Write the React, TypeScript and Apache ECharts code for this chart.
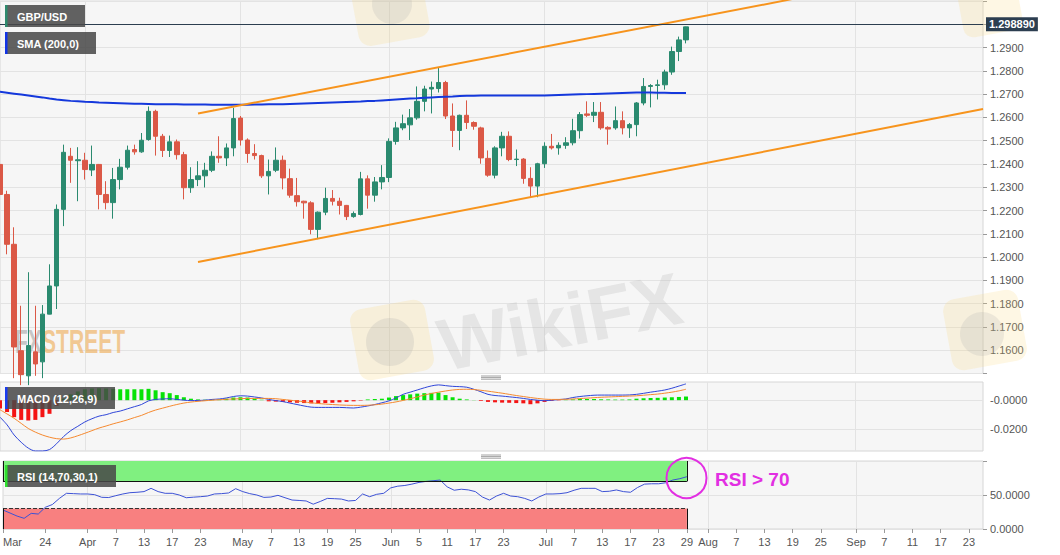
import React, { useEffect, useRef } from 'react';
import * as echarts from 'echarts';

// ---------- axis / calendar ----------
const firstDate = '2020-03-16';
const lastDate = '2020-09-25';

function weekdays(from: string, to: string): string[] {
  const out: string[] = [];
  const d = new Date(from + 'T00:00:00Z');
  const end = new Date(to + 'T00:00:00Z');
  while (d <= end) {
    const wd = d.getUTCDay();
    if (wd !== 0 && wd !== 6) out.push(d.toISOString().slice(0, 10));
    d.setUTCDate(d.getUTCDate() + 1);
  }
  return out;
}
const categories = weekdays(firstDate, lastDate);

const tickLabels: [string, string][] = [
  ['2020-03-16', 'Mar'], ['2020-03-24', '24'], ['2020-04-01', 'Apr'], ['2020-04-07', '7'],
  ['2020-04-13', '13'], ['2020-04-17', '17'], ['2020-04-23', '23'], ['2020-05-01', 'May'],
  ['2020-05-07', '7'], ['2020-05-13', '13'], ['2020-05-19', '19'], ['2020-05-25', '25'],
  ['2020-06-01', 'Jun'], ['2020-06-05', '5'], ['2020-06-11', '11'], ['2020-06-17', '17'],
  ['2020-06-23', '23'], ['2020-07-01', 'Jul'], ['2020-07-07', '7'], ['2020-07-13', '13'],
  ['2020-07-17', '17'], ['2020-07-23', '23'], ['2020-07-29', '29'], ['2020-08-03', 'Aug'],
  ['2020-08-07', '7'], ['2020-08-13', '13'], ['2020-08-19', '19'], ['2020-08-25', '25'],
  ['2020-09-01', 'Sep'], ['2020-09-07', '7'], ['2020-09-11', '11'], ['2020-09-17', '17'],
  ['2020-09-23', '23'],
];
const monthStarts = ['2020-04-01', '2020-05-01', '2020-06-01', '2020-07-01', '2020-08-03', '2020-09-01'];

// ---------- price candles (Mar 16 .. Jul 29, 2020) ----------
const opens = [
  1.2398, 1.2269, 1.2055, 1.1598, 1.1490, 1.1593, 1.1550, 1.1755, 1.1876, 1.2205,
  1.2433, 1.2414, 1.2416, 1.2374, 1.2398, 1.2269, 1.2234, 1.2333, 1.2386, 1.2462,
  1.2452, 1.2505, 1.2626, 1.2519, 1.2458, 1.2495, 1.2440, 1.2298, 1.2333, 1.2349,
  1.2373, 1.2433, 1.2426, 1.2469, 1.2597, 1.2503, 1.2445, 1.2436, 1.2349, 1.2373,
  1.2416, 1.2337, 1.2264, 1.2240, 1.2233, 1.2119, 1.2193, 1.2252, 1.2240, 1.2222,
  1.2174, 1.2183, 1.2336, 1.2266, 1.2323, 1.2342, 1.2497, 1.2555, 1.2568, 1.2598,
  1.2669, 1.2722, 1.2724, 1.2750, 1.2606, 1.2544, 1.2609, 1.2578, 1.2555, 1.2424,
  1.2352, 1.2469, 1.2519, 1.2419, 1.2421, 1.2338, 1.2305, 1.2401, 1.2476, 1.2469,
  1.2480, 1.2491, 1.2543, 1.2615, 1.2609, 1.2622, 1.2557, 1.2555, 1.2586, 1.2555,
  1.2569, 1.2662, 1.2733, 1.2737, 1.2740, 1.2795, 1.2883, 1.2933,
];
const closes = [
  1.2269, 1.2055, 1.1614, 1.1495, 1.1620, 1.1541, 1.1755, 1.1876, 1.2205, 1.2450,
  1.2416, 1.2418, 1.2376, 1.2398, 1.2269, 1.2234, 1.2333, 1.2386, 1.2459, 1.2452,
  1.2502, 1.2626, 1.2519, 1.2458, 1.2495, 1.2440, 1.2298, 1.2333, 1.2349, 1.2373,
  1.2433, 1.2426, 1.2469, 1.2595, 1.2503, 1.2445, 1.2436, 1.2349, 1.2368, 1.2416,
  1.2340, 1.2266, 1.2238, 1.2233, 1.2119, 1.2193, 1.2252, 1.2240, 1.2222, 1.2174,
  1.2187, 1.2336, 1.2266, 1.2323, 1.2342, 1.2497, 1.2555, 1.2573, 1.2598, 1.2669,
  1.2722, 1.2729, 1.2750, 1.2606, 1.2544, 1.2609, 1.2578, 1.2562, 1.2426, 1.2352,
  1.2469, 1.2519, 1.2419, 1.2421, 1.2338, 1.2305, 1.2401, 1.2476, 1.2469, 1.2480,
  1.2491, 1.2543, 1.2612, 1.2609, 1.2622, 1.2555, 1.2550, 1.2586, 1.2555, 1.2569,
  1.2662, 1.2733, 1.2737, 1.2740, 1.2795, 1.2883, 1.2933, 1.29889,
];
const lows = [
  1.2248, 1.2012, 1.1480, 1.1450, 1.1450, 1.1490, 1.1480, 1.1777, 1.1777, 1.2133,
  1.2319, 1.2240, 1.2333, 1.2348, 1.2205, 1.2205, 1.2165, 1.2291, 1.2376, 1.2440,
  1.2448, 1.2500, 1.2436, 1.2430, 1.2430, 1.2419, 1.2248, 1.2276, 1.2305, 1.2299,
  1.2365, 1.2405, 1.2391, 1.2433, 1.2479, 1.2405, 1.2419, 1.2340, 1.2269, 1.2365,
  1.2291, 1.2255, 1.2217, 1.2165, 1.2098, 1.2077, 1.2180, 1.2222, 1.2183, 1.2159,
  1.2169, 1.2179, 1.2208, 1.2238, 1.2291, 1.2322, 1.2483, 1.2545, 1.2503, 1.2590,
  1.2626, 1.2617, 1.2707, 1.2593, 1.2473, 1.2459, 1.2550, 1.2547, 1.2401, 1.2345,
  1.2338, 1.2433, 1.2412, 1.2391, 1.2315, 1.2255, 1.2257, 1.2383, 1.2462, 1.2440,
  1.2465, 1.2480, 1.2509, 1.2602, 1.2580, 1.2547, 1.2483, 1.2547, 1.2527, 1.2512,
  1.2519, 1.2652, 1.2643, 1.2677, 1.2719, 1.2783, 1.2842, 1.2918,
];
const highs = [
  1.2428, 1.2285, 1.2128, 1.1791, 1.1935, 1.1791, 1.1794, 1.1969, 1.2226, 1.2483,
  1.2469, 1.2472, 1.2448, 1.2479, 1.2400, 1.2326, 1.2383, 1.2422, 1.2479, 1.2483,
  1.2533, 1.2647, 1.2633, 1.2529, 1.2522, 1.2505, 1.2452, 1.2386, 1.2412, 1.2405,
  1.2454, 1.2519, 1.2488, 1.2641, 1.2606, 1.2510, 1.2485, 1.2440, 1.2419, 1.2471,
  1.2436, 1.2380, 1.2340, 1.2242, 1.2240, 1.2196, 1.2298, 1.2288, 1.2255, 1.2224,
  1.2196, 1.2366, 1.2351, 1.2344, 1.2395, 1.2510, 1.2581, 1.2612, 1.2636, 1.2733,
  1.2736, 1.2754, 1.2812, 1.2757, 1.2660, 1.2612, 1.2673, 1.2583, 1.2560, 1.2458,
  1.2476, 1.2538, 1.2540, 1.2462, 1.2425, 1.2386, 1.2405, 1.2493, 1.2529, 1.2493,
  1.2515, 1.2594, 1.2623, 1.2669, 1.2666, 1.2666, 1.2562, 1.2647, 1.2626, 1.2576,
  1.2666, 1.2769, 1.2743, 1.2762, 1.2805, 1.2904, 1.2947, 1.2990,
];

const sma200 = [
  1.2710, 1.2706, 1.2702, 1.2698, 1.2694, 1.2690, 1.2686, 1.2681, 1.2677, 1.2674,
  1.2671, 1.2669, 1.2667, 1.2666, 1.2664, 1.2663, 1.2662, 1.2661, 1.2660, 1.2659,
  1.2659, 1.2658, 1.2657, 1.2657, 1.2656, 1.2656, 1.2655, 1.2655, 1.2655, 1.2655,
  1.2654, 1.2654, 1.2654, 1.2654, 1.2654, 1.2654, 1.2655, 1.2655, 1.2656, 1.2656,
  1.2657, 1.2658, 1.2659, 1.2660, 1.2661, 1.2662, 1.2663, 1.2664, 1.2665, 1.2666,
  1.2667, 1.2668, 1.2670, 1.2671, 1.2673, 1.2675, 1.2677, 1.2679, 1.2681, 1.2682,
  1.2684, 1.2686, 1.2688, 1.2689, 1.2690, 1.2692, 1.2693, 1.2693, 1.2694, 1.2694,
  1.2694, 1.2694, 1.2694, 1.2694, 1.2694, 1.2694, 1.2694, 1.2694, 1.2695, 1.2696,
  1.2697, 1.2698, 1.2699, 1.2700, 1.2701, 1.2702, 1.2703, 1.2704, 1.2705, 1.2706,
  1.2707, 1.2707, 1.2707, 1.2706, 1.2706, 1.2705, 1.2705, 1.2705,
];

// channel lines (start / end points)
const upperChannel: [string, number][] = [['2020-04-23', 1.2617], ['2020-08-19', 1.3108]];
const lowerChannel: [string, number][] = [['2020-04-23', 1.1979], ['2020-09-25', 1.2636]];

// ---------- MACD (12,26,9) ----------
const macdLine = [
  -0.0117, -0.0170, -0.0240, -0.0290, -0.0330, -0.0350, -0.0350, -0.0340, -0.0300, -0.0250,
  -0.0210, -0.0180, -0.0150, -0.0128, -0.0110, -0.0100, -0.0085, -0.0075, -0.0060, -0.0045,
  -0.0030, -0.0005, 0.0005, 0.0008, 0.0010, 0.0005, 0.0000, -0.0003, -0.0002, 0.0000,
  0.0005, 0.0008, 0.0015, 0.0025, 0.0030, 0.0028, 0.0022, 0.0015, 0.0005, -0.0003,
  -0.0010, -0.0020, -0.0030, -0.0040, -0.0048, -0.0050, -0.0050, -0.0050, -0.0050, -0.0052,
  -0.0054, -0.0048, -0.0040, -0.0030, -0.0018, -0.0005, 0.0015, 0.0040, 0.0055, 0.0070,
  0.0085, 0.0098, 0.0105, 0.0100, 0.0095, 0.0093, 0.0089, 0.0075, 0.0058, 0.0040,
  0.0032, 0.0028, 0.0023, 0.0018, 0.0012, 0.0005, 0.0000, -0.0004, 0.0000, 0.0004,
  0.0008, 0.0018, 0.0025, 0.0030, 0.0034, 0.0035, 0.0035, 0.0035, 0.0035, 0.0036,
  0.0040, 0.0047, 0.0055, 0.0062, 0.0070, 0.0082, 0.0097, 0.0112,
];
const macdSignal = [
  -0.0066, -0.0095, -0.0125, -0.0160, -0.0195, -0.0220, -0.0240, -0.0255, -0.0265, -0.0268,
  -0.0260, -0.0245, -0.0228, -0.0210, -0.0192, -0.0178, -0.0163, -0.0150, -0.0136, -0.0120,
  -0.0105, -0.0085, -0.0068, -0.0055, -0.0042, -0.0030, -0.0020, -0.0013, -0.0008, -0.0004,
  0.0000, 0.0003, 0.0006, 0.0008, 0.0010, 0.0012, 0.0012, 0.0012, 0.0012, 0.0010,
  0.0005, 0.0000, -0.0006, -0.0012, -0.0018, -0.0023, -0.0027, -0.0030, -0.0033, -0.0035,
  -0.0036, -0.0036, -0.0035, -0.0032, -0.0027, -0.0020, -0.0012, -0.0002, 0.0010, 0.0022,
  0.0035, 0.0046, 0.0055, 0.0063, 0.0070, 0.0074, 0.0075, 0.0073, 0.0068, 0.0062,
  0.0055, 0.0048, 0.0040, 0.0032, 0.0025, 0.0018, 0.0012, 0.0007, 0.0005, 0.0005,
  0.0006, 0.0008, 0.0011, 0.0014, 0.0017, 0.0020, 0.0022, 0.0024, 0.0026, 0.0028,
  0.0030, 0.0034, 0.0038, 0.0042, 0.0048, 0.0055, 0.0064, 0.0075,
];
const macdHist = [
  -0.0058, -0.0082, -0.0117, -0.0136, -0.0140, -0.0136, -0.0117, -0.0094, -0.0040, 0.0010,
  0.0040, 0.0060, 0.0075, 0.0080, 0.0082, 0.0080, 0.0078, 0.0075, 0.0075, 0.0075,
  0.0075, 0.0078, 0.0068, 0.0055, 0.0048, 0.0035, 0.0020, 0.0010, 0.0005, 0.0003,
  0.0004, 0.0005, 0.0010, 0.0018, 0.0020, 0.0018, 0.0010, 0.0003, -0.0008, -0.0010,
  -0.0012, -0.0015, -0.0018, -0.0020, -0.0022, -0.0022, -0.0020, -0.0018, -0.0015, -0.0012,
  -0.0008, -0.0003, 0.0005, 0.0008, 0.0010, 0.0018, 0.0028, 0.0035, 0.0040, 0.0045,
  0.0048, 0.0050, 0.0052, 0.0035, 0.0020, 0.0010, 0.0005, 0.0001, -0.0005, -0.0012,
  -0.0015, -0.0017, -0.0018, -0.0020, -0.0022, -0.0028, -0.0022, -0.0012, -0.0005, -0.0002,
  0.0003, 0.0005, 0.0008, 0.0008, 0.0008, 0.0006, 0.0005, 0.0004, 0.0004, 0.0005,
  0.0010, 0.0013, 0.0015, 0.0016, 0.0018, 0.0020, 0.0022, 0.0025,
];

// ---------- RSI (14,70,30,1) ----------
const rsi = [
  27.9, 23.5, 19.0, 15.7, 23.0, 22.0, 31.9, 36.0, 45.0, 52.5,
  52.0, 51.5, 51.5, 50.5, 46.6, 46.3, 49.0, 51.5, 53.4, 54.0,
  55.0, 59.8, 55.0, 52.5, 52.5, 50.0, 46.0, 46.8, 47.5, 48.5,
  51.5, 52.0, 53.0, 59.3, 55.0, 52.0, 50.0, 46.5, 47.0, 49.5,
  46.0, 42.6, 42.0, 41.2, 36.5, 40.5, 45.0, 44.6, 44.0, 41.2,
  42.0, 51.5, 47.5, 51.0, 52.5, 60.5, 63.0, 64.0, 66.0, 68.5,
  70.0, 71.0, 72.0, 62.0, 57.0, 58.5, 57.5, 55.0, 47.0, 42.6,
  48.5, 52.5, 48.5, 47.5, 45.0, 41.2, 47.0, 51.5, 51.5, 52.0,
  53.4, 57.0, 59.8, 59.8, 59.8, 55.0, 55.5, 57.4, 55.0, 54.0,
  61.0, 66.0, 66.5, 66.5, 68.0, 72.0, 74.0, 76.9,
];
const rsiUpper = 70;
const rsiLower = 30;

// ---------- option ----------
const tickMap = new Map(tickLabels);
const monthSet = new Set(monthStarts);
const lastIdx = closes.length - 1;
const firstCat = categories[0];
const lastCat = categories[lastIdx];
const lastClose = closes[lastIdx];

const FONT = 'Arial';
const PLOT_W = 983;
const GRID_BG = '#f6f6f6';
const GRID_BORDER = '#d6d6d6';
const SPLIT = '#e3e3e3';

const baseX = (gridIndex: number, showLabels: boolean) => ({
  type: 'category',
  gridIndex,
  data: categories,
  boundaryGap: false,
  axisLine: { show: false },
  axisTick: {
    show: showLabels,
    interval: (_i: number, v: string) => tickMap.has(v),
    length: 4,
    lineStyle: { color: '#9a9a9a' },
  },
  axisLabel: {
    show: showLabels,
    interval: (_i: number, v: string) => tickMap.has(v),
    formatter: (v: string) => tickMap.get(v) ?? '',
    color: '#555',
    fontSize: 11,
    fontFamily: FONT,
    margin: 7,
    alignMinLabel: 'left',
  },
  splitLine: {
    show: true,
    interval: (_i: number, v: string) => monthSet.has(v),
    lineStyle: { color: SPLIT, width: 1 },
  },
});

const yLabel = { color: '#555', fontSize: 11, fontFamily: FONT, margin: 7 };
const yTick = { show: true, length: 4, lineStyle: { color: '#9a9a9a' } };

const boxes = [
  { x: 5, y: 5, w: 80, text: 'GBP/USD', bar: '#2e8b6e' },
  { x: 5, y: 32, w: 91, text: 'SMA (200,0)', bar: '#1234e6' },
  { x: 5, y: 387, w: 110, text: 'MACD (12,26,9)', bar: '#1a3cf0' },
  { x: 5, y: 465, w: 111, text: 'RSI (14,70,30,1)', bar: '#2ee02e' },
];

const boxElements: any[] = [];
boxes.forEach((b) => {
  boxElements.push({
    type: 'rect', z: 100, silent: true,
    shape: { x: b.x, y: b.y, width: b.w, height: 22 },
    style: { fill: 'rgba(72,72,72,0.86)' },
  });
  boxElements.push({
    type: 'rect', z: 101, silent: true,
    shape: { x: b.x, y: b.y, width: 2.5, height: 22 },
    style: { fill: b.bar },
  });
  boxElements.push({
    type: 'text', z: 102, silent: true, x: b.x + 12, y: b.y + 11.5,
    style: { text: b.text, fill: '#ffffff', fontSize: 11, fontWeight: 'bold', fontFamily: FONT, verticalAlign: 'middle' },
  });
});

const gripElements: any[] = [];
[376, 455].forEach((gy) => {
  [0, 1.6, 3.2].forEach((dy) => {
    gripElements.push({
      type: 'line', z: 20, silent: true,
      shape: { x1: 481, y1: gy + dy, x2: 501, y2: gy + dy },
      style: { stroke: '#8a8a8a', lineWidth: 0.8 },
    });
  });
});

const watermark: any[] = [
  // WikiFX watermark (center)
  {
    type: 'rect', z: 1, silent: true, x: 392, y: 340, rotation: 0.18,
    shape: { x: -38, y: -36, width: 76, height: 72, r: 12 },
    style: { fill: 'rgba(250,215,120,0.22)' },
  },
  {
    type: 'circle', z: 1, silent: true,
    shape: { cx: 390, cy: 342, r: 24 },
    style: { fill: 'rgba(170,170,170,0.22)' },
  },
  {
    type: 'text', z: 1, silent: true, x: 560, y: 322, rotation: 0.2,
    style: { text: 'WikiFX', fill: 'rgba(190,190,190,0.3)', fontSize: 74, fontWeight: 'bold', fontFamily: FONT, align: 'center', verticalAlign: 'middle' },
  },
  // partial watermarks at top and right
  {
    type: 'rect', z: 1, silent: true, x: 390, y: 8, rotation: 0.18,
    shape: { x: -36, y: -34, width: 72, height: 68, r: 12 },
    style: { fill: 'rgba(250,215,120,0.2)' },
  },
  {
    type: 'circle', z: 1, silent: true,
    shape: { cx: 392, cy: 4, r: 20 },
    style: { fill: 'rgba(170,170,170,0.2)' },
  },
  {
    type: 'rect', z: 1, silent: true, x: 985, y: 330, rotation: 0.18,
    shape: { x: -38, y: -36, width: 76, height: 72, r: 12 },
    style: { fill: 'rgba(250,215,120,0.2)' },
  },
  {
    type: 'circle', z: 1, silent: true,
    shape: { cx: 982, cy: 334, r: 22 },
    style: { fill: 'rgba(170,170,170,0.2)' },
  },
  {
    type: 'rect', z: 1, silent: true, x: 990, y: 8, rotation: 0.18,
    shape: { x: -30, y: -34, width: 60, height: 60, r: 10 },
    style: { fill: 'rgba(250,215,120,0.2)' },
  },
  // FXSTREET watermark
  {
    type: 'text', z: 1, silent: true, x: 15, y: 341, scaleX: 0.62,
    style: { text: 'FX', fill: 'rgba(150,150,150,0.5)', fontSize: 34, fontWeight: 'bold', fontFamily: FONT, verticalAlign: 'middle' },
  },
  {
    type: 'text', z: 1, silent: true, x: 42, y: 341, scaleX: 0.62,
    style: { text: 'STREET', fill: 'rgba(238,170,80,0.6)', fontSize: 34, fontWeight: 'bold', fontFamily: FONT, verticalAlign: 'middle' },
  },
];

const annotation: any[] = [
  {
    type: 'circle', z: 60, silent: true,
    shape: { cx: 686.5, cy: 478, r: 20 },
    style: { fill: 'none', stroke: '#e22fe2', lineWidth: 2 },
  },
  {
    type: 'text', z: 60, silent: true, x: 715, y: 479,
    style: { text: 'RSI > 70', fill: '#e22fe2', fontSize: 19, fontWeight: 'bold', fontFamily: FONT, verticalAlign: 'middle' },
  },
];

const option: any = {
  animation: false,
  backgroundColor: '#ffffff',
  grid: [
    { left: 0, top: 1, width: PLOT_W, height: 372.5, show: true, backgroundColor: GRID_BG, borderColor: GRID_BORDER, borderWidth: 1 },
    { left: 0, top: 382, width: PLOT_W, height: 69, show: true, backgroundColor: GRID_BG, borderColor: GRID_BORDER, borderWidth: 1 },
    { left: 0, top: 461, width: PLOT_W, height: 68, show: true, backgroundColor: GRID_BG, borderColor: GRID_BORDER, borderWidth: 1 },
  ],
  xAxis: [baseX(0, false), baseX(1, false), baseX(2, true)],
  yAxis: [
    {
      type: 'value', gridIndex: 0, position: 'right', min: 1.15, max: 1.31, interval: 0.01,
      axisLine: { show: false }, axisTick: yTick,
      axisLabel: { ...yLabel, formatter: (v: number) => (v > 1.155 && v < 1.295 ? v.toFixed(4) : '') },
      splitLine: { show: true, lineStyle: { color: SPLIT } },
    },
    {
      type: 'value', gridIndex: 1, position: 'right', min: -0.035, max: 0.0125, interval: 0.0025,
      axisLine: { show: false }, axisTick: { show: false },
      axisLabel: {
        ...yLabel,
        formatter: (v: number) => (Math.abs(v) < 1e-7 ? '-0.0000' : Math.abs(v + 0.02) < 1e-7 ? '-0.0200' : ''),
      },
      splitLine: { show: false },
    },
    {
      type: 'value', gridIndex: 2, position: 'right', min: 0, max: 100, interval: 50,
      axisLine: { show: false }, axisTick: yTick,
      axisLabel: { ...yLabel, formatter: (v: number) => (v >= 100 ? '' : v.toFixed(4)) },
      splitLine: { show: true, lineStyle: { color: SPLIT } },
    },
  ],
  graphic: { elements: [...watermark, ...gripElements, ...boxElements, ...annotation] },
  series: [
    {
      type: 'candlestick', name: 'GBP/USD', xAxisIndex: 0, yAxisIndex: 0,
      barWidth: 5,
      data: opens.map((o, i) => [o, closes[i], lows[i], highs[i]]),
      itemStyle: { color: '#2a8a6f', color0: '#db5846', borderColor: '#2a8a6f', borderColor0: '#db5846', borderWidth: 1 },
      markLine: {
        silent: true, symbol: ['none', 'none'], animation: false,
        data: [{ yAxis: lastClose }],
        lineStyle: { color: '#2c3e50', width: 1, type: 'solid' },
        label: {
          show: true, position: 'end', distance: 3,
          formatter: () => lastClose.toFixed(6),
          backgroundColor: '#2c3e50', color: '#ffffff', fontSize: 11, fontWeight: 'bold', fontFamily: FONT,
          padding: [2, 3, 1, 3],
        },
      },
    },
    {
      type: 'line', name: 'SMA (200,0)', xAxisIndex: 0, yAxisIndex: 0,
      data: sma200, showSymbol: false, symbol: 'none', silent: true,
      lineStyle: { color: '#1438dc', width: 2 },
    },
    {
      type: 'line', name: 'upper', xAxisIndex: 0, yAxisIndex: 0,
      data: upperChannel, showSymbol: false, symbol: 'none', silent: true,
      lineStyle: { color: '#f7941d', width: 2 },
    },
    {
      type: 'line', name: 'lower', xAxisIndex: 0, yAxisIndex: 0,
      data: lowerChannel, showSymbol: false, symbol: 'none', silent: true,
      lineStyle: { color: '#f7941d', width: 2 },
    },
    {
      type: 'bar', name: 'hist', xAxisIndex: 1, yAxisIndex: 1, barWidth: 4,
      data: macdHist.map((v) => ({ value: v, itemStyle: { color: v >= 0 ? '#06e206' : '#f41414' } })),
      silent: true,
      markLine: {
        silent: true, symbol: ['none', 'none'], label: { show: false }, animation: false,
        data: [{ yAxis: 0 }, { yAxis: -0.02 }],
        lineStyle: { color: SPLIT, width: 1, type: 'solid' },
        z: 0,
      },
    },
    {
      type: 'line', name: 'MACD', xAxisIndex: 1, yAxisIndex: 1,
      data: macdLine, showSymbol: false, symbol: 'none', silent: true, smooth: 0.3,
      lineStyle: { color: '#2f45d8', width: 1 },
    },
    {
      type: 'line', name: 'Signal', xAxisIndex: 1, yAxisIndex: 1,
      data: macdSignal, showSymbol: false, symbol: 'none', silent: true, smooth: 0.3,
      lineStyle: { color: '#f5892f', width: 1 },
    },
    {
      type: 'line', name: 'RSI', xAxisIndex: 2, yAxisIndex: 2,
      data: rsi, showSymbol: false, symbol: 'none', silent: true,
      lineStyle: { color: '#3d52d5', width: 1 },
      markArea: {
        silent: true,
        data: [
          [{ xAxis: firstCat, yAxis: rsiUpper, itemStyle: { color: '#80f080' } }, { xAxis: lastCat, yAxis: 100 }],
          [{ xAxis: firstCat, yAxis: 0, itemStyle: { color: '#f88080' } }, { xAxis: lastCat, yAxis: rsiLower }],
        ],
      },
      markLine: {
        silent: true, symbol: ['none', 'none'], label: { show: false }, animation: false,
        lineStyle: { color: '#111', width: 1, type: 'solid' },
        data: [
          [{ coord: [firstCat, rsiUpper] }, { coord: [lastCat, rsiUpper] }],
          [{ coord: [firstCat, rsiLower], lineStyle: { type: 'dashed', color: '#333' } }, { coord: [lastCat, rsiLower] }],
          [{ coord: [lastCat, rsiUpper] }, { coord: [lastCat, 100] }],
          [{ coord: [lastCat, 0] }, { coord: [lastCat, rsiLower] }],
          [{ coord: [firstCat, rsiUpper] }, { coord: [firstCat, 100] }],
          [{ coord: [firstCat, 0] }, { coord: [firstCat, rsiLower] }],
        ],
      },
    },
  ],
};

export default function App() {
  const ref = useRef<HTMLDivElement>(null);
  useEffect(() => {
    if (!ref.current) return;
    const chart = echarts.init(ref.current, undefined, { renderer: 'svg' });
    chart.setOption(option);
    return () => chart.dispose();
  }, []);
  return (
    <div
      ref={ref}
      style={{ position: 'fixed', left: 0, top: 0, width: 1060, height: 555, background: '#ffffff' }}
    />
  );
}
